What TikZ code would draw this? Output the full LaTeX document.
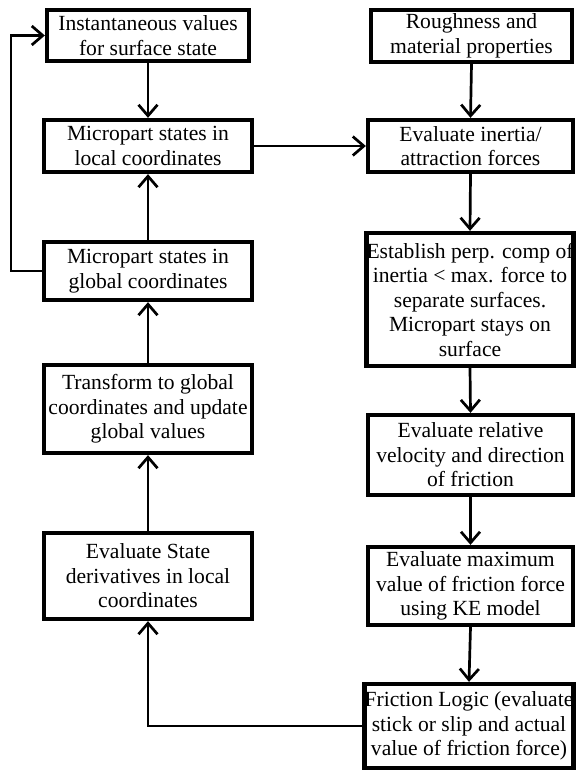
\documentclass[tikz,border=0pt]{standalone}
\usepackage{fontspec}
\setmainfont{Liberation Serif}
\usetikzlibrary{arrows.meta}
\begin{document}
\begin{tikzpicture}[x=1pt,y=-1pt,
  box/.style={draw, line width=4.3pt, inner sep=0pt, align=center,
    font=\fontsize{21.6}{24.5}\selectfont},
  arr/.style={line width=2.7pt, -{Straight Barb[length=11pt,width=19pt]}}]
\useasboundingbox (0,0) rectangle (577,770);
% left column
\node[box, minimum width=202pt, minimum height=51pt] (B1) at (148,35.5) {Instantaneous values\\for surface state};
\node[box, minimum width=208pt, minimum height=52pt] (B2) at (148,146) {Micropart states in\\local coordinates};
\node[box, minimum width=208pt, minimum height=58pt] (B3) at (148,271) {Micropart states in\\global coordinates};
\node[box, minimum width=208pt, minimum height=88pt] (B4) at (148,409) {Transform to global\\coordinates and update\\global values};
\node[box, minimum width=208pt, minimum height=86pt] (B5) at (148,576) {Evaluate State\\derivatives in local\\coordinates};
% right column
\node[box, minimum width=201pt, minimum height=52pt] (R1) at (471.5,36) {Roughness and\\material properties};
\node[box, minimum width=205pt, minimum height=52pt] (R2) at (470.5,146) {Evaluate inertia/\\attraction forces};
\node[box, minimum width=206pt, minimum height=133pt] (R3) at (470,299.5) {Establish perp. comp of\\inertia < max. force to\\separate surfaces.\\Micropart stays on\\surface};
\node[box, minimum width=205pt, minimum height=80pt] (R4) at (470.5,455) {Evaluate relative\\velocity and direction\\of friction};
\node[box, minimum width=205pt, minimum height=78pt] (R5) at (470.5,586) {Evaluate maximum\\value of friction force\\using KE model};
\node[box, minimum width=208pt, minimum height=84pt] (R6) at (469,726) {Friction Logic (evaluate\\stick or slip and actual\\value of friction force)};
% connectors
\draw[arr] (B1.south) -- (B2.north);
\draw[arr] (B3.north) -- (B2.south);
\draw[arr] (B4.north) -- (B3.south);
\draw[arr] (B5.north) -- (B4.south);
\draw[arr] (B3.west) -- ++(-31,0) |- (B1.west);
\draw[arr] (B2.east) -- (R2.west);
\draw[arr] (R1.south) -- (R2.north);
\draw[arr] (R2.south) -- (R3.north);
\draw[arr] (R3.south) -- (R4.north);
\draw[arr] (R4.south) -- (R5.north);
\draw[arr] (R5.south) -- (R6.north);
\draw[arr] (R6.west) -| (B5.south);
\end{tikzpicture}
\end{document}
